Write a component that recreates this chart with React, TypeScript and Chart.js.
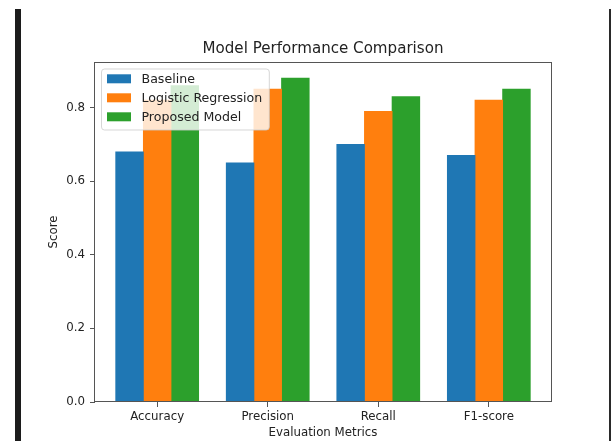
import React, { useEffect, useRef } from 'react';
import { Chart, registerables } from 'chart.js';

Chart.register(...registerables);

const categories = ['Accuracy', 'Precision', 'Recall', 'F1-score'];
const seriesNames = ['Baseline', 'Logistic Regression', 'Proposed Model'];
const baselineValues = [0.68, 0.65, 0.7, 0.67];
const logisticValues = [0.82, 0.85, 0.79, 0.82];
const proposedValues = [0.86, 0.88, 0.83, 0.85];
const yTickValues = [0, 0.2, 0.4, 0.6, 0.8];
const seriesColors = ['#1f77b4', '#ff7f0e', '#2ca02c'];

const chartTitle = 'Model Performance Comparison';
const xTitle = 'Evaluation Metrics';
const yTitle = 'Score';

const FONT = "'DejaVu Sans', 'Noto Sans', sans-serif";
const TEXT = '#222';
const SPINE = '#555';

const spinesLegendTitle = {
  id: 'spinesLegendTitle',
  afterDatasetsDraw(chart: any) {
    const { ctx, chartArea } = chart;
    ctx.save();
    // spines
    ctx.strokeStyle = SPINE;
    ctx.lineWidth = 1;
    ctx.strokeRect(
      Math.round(chartArea.left) - 0.5,
      Math.round(chartArea.top) + 0.5,
      Math.round(chartArea.right - chartArea.left) + 1,
      Math.round(chartArea.bottom - chartArea.top) - 1
    );
    // title centred on the axes
    ctx.font = `15.1px ${FONT}`;
    ctx.fillStyle = TEXT;
    ctx.textAlign = 'center';
    ctx.textBaseline = 'alphabetic';
    ctx.fillText(chartTitle, (chartArea.left + chartArea.right) / 2, chartArea.top - 9.3);
    // legend
    ctx.font = `12.6px ${FONT}`;
    const datasets = chart.data.datasets;
    let maxW = 0;
    datasets.forEach((d: any) => {
      maxW = Math.max(maxW, ctx.measureText(d.label).width);
    });
    const bx = chartArea.left + 6.5;
    const by = chartArea.top + 7;
    const bw = 40 + maxW + 7;
    const bh = 61;
    const r = 3;
    ctx.beginPath();
    ctx.moveTo(bx + r, by);
    ctx.lineTo(bx + bw - r, by);
    ctx.quadraticCurveTo(bx + bw, by, bx + bw, by + r);
    ctx.lineTo(bx + bw, by + bh - r);
    ctx.quadraticCurveTo(bx + bw, by + bh, bx + bw - r, by + bh);
    ctx.lineTo(bx + r, by + bh);
    ctx.quadraticCurveTo(bx, by + bh, bx, by + bh - r);
    ctx.lineTo(bx, by + r);
    ctx.quadraticCurveTo(bx, by, bx + r, by);
    ctx.closePath();
    ctx.fillStyle = 'rgba(255,255,255,0.8)';
    ctx.fill();
    ctx.strokeStyle = 'rgba(204,204,204,0.8)';
    ctx.lineWidth = 1;
    ctx.stroke();
    datasets.forEach((d: any, i: number) => {
      const rowY = by + 5.3 + 19 * i;
      ctx.fillStyle = d.backgroundColor;
      ctx.fillRect(bx + 5.5, rowY, 24, 9);
      ctx.fillStyle = TEXT;
      ctx.textBaseline = 'alphabetic';
      ctx.textAlign = 'left';
      ctx.fillText(d.label, bx + 40, rowY + 9);
    });
    ctx.restore();
  },
};

export default function App() {
  const canvasRef = useRef<HTMLCanvasElement | null>(null);

  useEffect(() => {
    if (!canvasRef.current) return;
    const seriesValues = [baselineValues, logisticValues, proposedValues];
    const chart = new Chart(canvasRef.current, {
      type: 'bar',
      data: {
        datasets: seriesNames.map((name, s) => ({
          label: name,
          data: categories.map((_, i) => ({ x: i, y: seriesValues[s][i] })),
          backgroundColor: seriesColors[s],
          borderWidth: 0,
          inflateAmount: 0.4,
          categoryPercentage: 0.75,
          barPercentage: 1.0,
        })),
      },
      options: {
        responsive: false,
        animation: false,
        events: [],
        layout: { padding: { left: 0, right: 62, top: 62, bottom: 0 } },
        plugins: {
          legend: { display: false },
          tooltip: { enabled: false },
          title: { display: false },
        },
        scales: {
          x: {
            type: 'linear',
            offset: false,
            min: -0.5625,
            max: 3.5625,
            afterBuildTicks: (axis: any) => {
              axis.ticks = categories.map((_, i) => ({ value: i }));
            },
            afterFit: (axis: any) => {
              axis.height = 39;
            },
            ticks: {
              color: TEXT,
              font: { family: FONT, size: 11.8 },
              padding: 2.7,
              maxRotation: 0,
              autoSkip: false,
              callback: (v: any) => categories[Math.round(Number(v))] ?? '',
            },
            grid: {
              offset: false,
              drawOnChartArea: false,
              drawTicks: true,
              tickLength: 5,
              color: SPINE,
            },
            border: { display: false },
            title: {
              display: true,
              text: xTitle,
              color: TEXT,
              font: { family: FONT, size: 11.8, lineHeight: 1.2 },
              padding: { top: 0, bottom: 0.8 },
            },
          },
          y: {
            type: 'linear',
            min: 0,
            max: 0.924,
            afterBuildTicks: (axis: any) => {
              axis.ticks = yTickValues.map((v) => ({ value: v }));
            },
            afterFit: (axis: any) => {
              axis.width = 95;
            },
            ticks: {
              color: TEXT,
              font: { family: FONT, size: 11.8 },
              padding: 5,
              callback: (v: any) => Number(v).toFixed(1),
            },
            grid: {
              drawOnChartArea: false,
              drawTicks: true,
              tickLength: 5,
              color: SPINE,
            },
            border: { display: false },
            title: {
              display: true,
              text: yTitle,
              color: TEXT,
              font: { family: FONT, size: 11.8, lineHeight: 1.2 },
              padding: { top: 47, bottom: 0 },
            },
          },
        },
      },
      plugins: [spinesLegendTitle],
    } as any);
    return () => chart.destroy();
  }, []);

  return (
    <div style={{ position: 'fixed', left: 0, top: 0, width: 613, height: 441, background: '#fff', overflow: 'hidden' }}>
      <canvas ref={canvasRef} width={613} height={441} style={{ display: 'block', width: 613, height: 441 }} />
      <div style={{ position: 'absolute', left: 15, top: 9, width: 6, height: 432, background: '#1c1c1c' }} />
      <div style={{ position: 'absolute', left: 609, top: 9, width: 2, height: 432, background: '#2a2a2a' }} />
    </div>
  );
}
